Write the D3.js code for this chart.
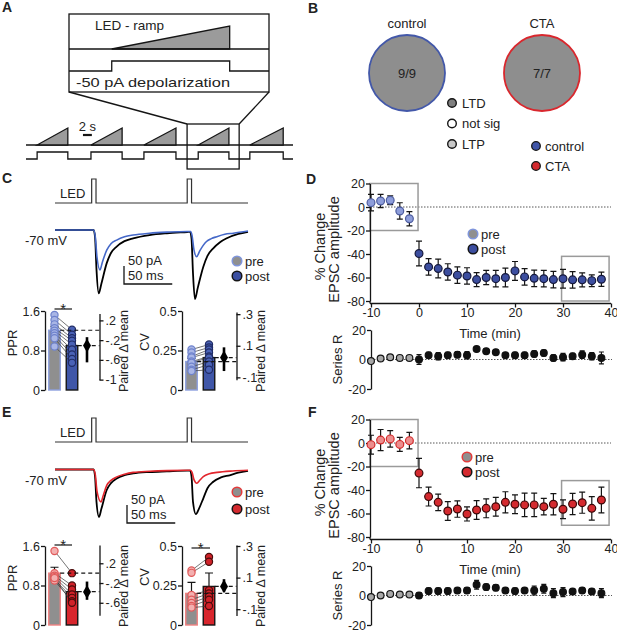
<!DOCTYPE html>
<html>
<head>
<meta charset="utf-8">
<script src="https://cdn.jsdelivr.net/npm/d3@7"></script>
<style>
  body { margin: 0; background: #fff; }
  svg text { font-family: Arial, "Liberation Sans", Helvetica, sans-serif; fill: #222; }
</style>
</head>
<body>
<svg id="fig" width="617" height="633"></svg>
<script>
// ---------- data ----------

// A: ramp / depolarization schedule (s)
const rampOn = [2.5, 14.6, 26.5, 38.7, 50.3];
const rampOff = [9.4, 21.6, 33.7, 45.6, 57.8];
const zoomWindow = [36.2, 47.9];
const zoomCycle = 3;

// B
const groups = ["control", "CTA"];
const ltdCounts = ["9/9", "7/7"];
const outcomeLabels = ["LTD", "not sig", "LTP"];
const outcomeFills = ["#7f7f7f", "#ffffff", "#c9c9c9"];

// C / E example traces: [ms, pA]; pre = black, post = coloured
const ledPulses = [[38, 42.5], [137, 141.5]];
const ctrlTracePre = [[0,0],[40,0],[41.5,-20],[43,-110],[45.3,-176],[48,-150],[53.6,-92],[58,-64],[63.9,-46],[72,-31],[81,-23],[98,-14],[116,-9],[137,-5.5],[140,-5],[141.5,-25],[143,-120],[145,-192],[148,-160],[153.7,-102],[158,-72],[164,-51],[171,-34],[178,-23],[190,-11],[200,-5]];
const ctrlTracePost = [[0,0],[40,0],[41.8,-20],[43.5,-75],[46.6,-111],[49,-90],[53.6,-56],[58,-38],[63.9,-28],[72,-19],[81,-14],[98,-9],[116,-6],[137,-4],[140.5,-4],[142,-15],[144,-55],[146.8,-74],[150,-58],[157,-32],[162,-24],[167.6,-18.6],[176,-12],[184.8,-9],[200,-3]];
const ctaTracePre = [[0,0],[40,0],[41.5,-20],[43,-90],[45.6,-132],[48,-110],[53.6,-57],[58,-38],[64,-25],[72,-16],[81,-11],[98,-7],[116,-5],[137,-3],[140,-3],[141.5,-20],[143,-90],[146,-124],[149,-110],[153.7,-80],[158,-52],[164,-34],[172,-22],[181,-16],[190,-9],[200,-4]];
const ctaTracePost = [[0,0],[40,0],[41.8,-15],[43.5,-60],[47.7,-90],[50,-72],[53.6,-44],[58,-30],[64,-20.5],[72,-13],[81,-8],[98,-5],[116,-3],[137,-2],[140.5,-2],[142,-8],[144,-28],[147,-38],[150,-30],[153.7,-20],[160,-12],[168,-8],[184,-4],[200,-2]];

// C / E paired plots
const ctrlPprPre  = [1.52, 1.42, 1.33, 1.25, 1.2, 1.15, 1.1, 1.05, 0.88];
const ctrlPprPost = [1.22, 1.12, 1.05, 1.0, 0.92, 0.82, 0.72, 0.63, 0.55];
const ctrlPprMean = [1.21, 0.90], ctrlPprSem = [0.08, 0.08], ctrlPprDelta = [-0.31, -0.65, -0.14];
const ctrlCvPre  = [0.256, 0.237, 0.212, 0.205, 0.18, 0.173, 0.147, 0.128, 0.12];
const ctrlCvPost = [0.288, 0.269, 0.256, 0.237, 0.212, 0.205, 0.18, 0.16, 0.128];
const ctrlCvMean = [0.18, 0.205], ctrlCvSem = [0.02, 0.025], ctrlCvDelta = [0.026, -0.06, 0.09];
const ctaPprPre  = [1.5, 1.05, 1.0, 0.97, 0.93, 0.9, 0.95];
const ctaPprPost = [1.05, 0.8, 0.72, 0.62, 0.55, 0.48, 0.45];
const ctaPprMean = [1.05, 0.675], ctaPprSem = [0.12, 0.08], ctaPprDelta = [-0.38, -0.54, -0.17];
const ctaCvPre  = [0.345, 0.33, 0.19, 0.16, 0.14, 0.12, 0.11];
const ctaCvPost = [0.43, 0.4, 0.22, 0.2, 0.18, 0.16, 0.12];
const ctaCvMean = [0.2, 0.244], ctaCvSem = [0.07, 0.085], ctaCvDelta = [0.044, 0.01, 0.09];

// D / F time courses (min)
const timePre = [-10, -8, -6, -4, -2];
const timePost = [0, 2, 4, 6, 8, 10, 12, 14, 16, 18, 20, 22, 24, 26, 28, 30, 32, 34, 36, 38];
const ctrlEpscPre = [3.7, 5.1, 5.7, -3.4, -10];
const ctrlEpscPreErr = [7, 5.7, 3.7, 7, 6];
const ctrlEpscPost = [-39.6, -51, -52.4, -55.3, -58, -58.7, -61.8, -60, -61, -60, -54.4, -59.5, -60.7, -61, -61.8, -61, -62, -62, -62.7, -61.5];
const ctrlEpscPostErr = [10.5, 7, 8, 7, 7, 7, 6, 6, 7, 8, 8, 7, 7, 7, 7, 8, 7, 6, 5, 6];
const ctrlRsPre = [-1.1, 0.7, 1.5, 1.1, 1.1];
const ctrlRsPost = [0, 2.9, 2.2, 2.9, 3.3, 2.9, 7.1, 5.6, 4.9, 2.9, 2.9, 2.9, 3.8, 4.4, 1.1, 1.6, 2.2, 3.3, 2.2, 1.1];
const ctrlRsPostErr = [3.3, 2, 2.5, 2, 2, 2.5, 1.5, 1.5, 1.5, 1.5, 2, 2, 2, 2, 2, 2.5, 2, 2.5, 2.5, 4];
const ctaEpscPre = [-1.4, 2.5, 3.5, -1.2, 2];
const ctaEpscPreErr = [8, 9, 7, 6, 7];
const ctaEpscPost = [-25.6, -45.6, -50.5, -57.9, -56.2, -60.4, -57, -55.6, -54.2, -50.5, -52.1, -52.7, -52.7, -54.2, -52.1, -56.4, -51.9, -50.8, -55.6, -48.5];
const ctaEpscPostErr = [12.5, 8, 7, 8, 7, 6, 8, 8, 8, 9, 8, 10, 10, 7, 9, 8, 9, 9, 10, 11];
const ctaRsPre = [-1.1, 0, 1.1, 0.7, 0.7];
const ctaRsPost = [0, 3, 3, 3, 3.4, 3.4, 7.3, 5.7, 5.3, 3.4, 3, 3.4, 3.4, 4.6, 1.6, 2.3, 2.7, 3.4, 2.7, 1.6];
const ctaRsPostErr = [2, 2, 2, 2, 2, 2, 3, 2, 2, 2, 2, 2, 3, 3, 3, 3, 2, 2, 2, 3];
const epscTicks = [20, 0, -20, -40, -60, -80];
const timeTicks = [-10, 0, 10, 20, 30, 40];
const rsTicks = [20, 0, -20];
const boxTimes = [[-10.2, -0.2], [29.7, 39.6]];
const ctrlBoxVals = [[20, -20], [-42, -80]];
const ctaBoxVals = [[20, -20], [-32, -70]];

// ---------- drawing ----------
const svg = d3.select("#fig");
const ink = "#151515";
const line = d3.line();

function txt(g, x, y, s, size, anchor, weight) {
  return g.append("text").attr("x", x).attr("y", y).text(s)
    .attr("font-size", size || 13)
    .attr("text-anchor", anchor || "start")
    .attr("font-weight", weight || null);
}
function vtxt(g, x, y, s, size) {
  return g.append("text").attr("transform", `translate(${x},${y}) rotate(-90)`)
    .attr("text-anchor", "middle").attr("dy", "0.35em")
    .attr("font-size", size || 13).text(s);
}
function styleAxis(a) {
  a.attr("font-size", 12.5);
  a.selectAll("path, line").attr("stroke", ink).attr("stroke-width", 1.3);
}

// panel letters
[["A", 2, 12], ["B", 308, 13], ["C", 2, 183], ["D", 306, 184], ["E", 2, 417], ["F", 308, 417]]
  .forEach(d => txt(svg, d[1], d[2], d[0], 14, "start", "bold"));

// ----- A -----
const gA = svg.append("g").attr("fill", "none").attr("stroke", ink).attr("stroke-width", 1.3);
const xA = d3.scaleLinear([0, 60], [26, 293]);
const rampY = d3.scaleLinear([0, 1], [145, 128]);
const stepY = d3.scaleLinear([0, 1], [159, 152]);
gA.append("line").attr("x1", xA(0)).attr("x2", xA(60)).attr("y1", rampY(0)).attr("y2", rampY(0));
rampOn.forEach((t, i) => {
  gA.append("path").attr("fill", "#9b9b9b")
    .attr("d", line([[xA(t), rampY(0)], [xA(rampOff[i]), rampY(1)], [xA(rampOff[i]), rampY(0)]]) + "Z");
});
const stepPts = [[xA(0), stepY(0)]];
rampOn.forEach((t, i) => stepPts.push([xA(t), stepY(0)], [xA(t), stepY(1)], [xA(rampOff[i]), stepY(1)], [xA(rampOff[i]), stepY(0)]));
stepPts.push([xA(60), stepY(0)]);
gA.append("path").attr("d", line(stepPts));
// zoom box and connectors
gA.append("rect").attr("x", xA(zoomWindow[0])).attr("y", 124)
  .attr("width", xA(zoomWindow[1]) - xA(zoomWindow[0])).attr("height", 45);
gA.append("line").attr("x1", 69).attr("y1", 92).attr("x2", xA(zoomWindow[0])).attr("y2", 124);
gA.append("line").attr("x1", 269).attr("y1", 92).attr("x2", xA(zoomWindow[1])).attr("y2", 124);
// inset
const xIn = d3.scaleLinear(zoomWindow, [69, 269]);
const inRampY = d3.scaleLinear([0, 1], [49, 26]);
const inStepY = d3.scaleLinear([0, 1], [71, 61]);
const on = rampOn[zoomCycle], off = rampOff[zoomCycle];
gA.append("rect").attr("x", 69).attr("y", 14).attr("width", 200).attr("height", 78);
gA.append("path").attr("fill", "#9b9b9b")
  .attr("d", line([[xIn(on), inRampY(0)], [xIn(off), inRampY(1)], [xIn(off), inRampY(0)]]) + "Z");
gA.append("line").attr("x1", 69).attr("x2", 269).attr("y1", inRampY(0)).attr("y2", inRampY(0));
gA.append("path").attr("d", line([[69, inStepY(0)], [xIn(on), inStepY(0)], [xIn(on), inStepY(1)],
  [xIn(off), inStepY(1)], [xIn(off), inStepY(0)], [269, inStepY(0)]]));
txt(svg, 95, 29.5, "LED - ramp", 13.5);
txt(svg, 76, 86.5, "-50 pA depolarization", 13.5)
  .attr("textLength", 154).attr("lengthAdjust", "spacingAndGlyphs");
// 2 s scale bar
gA.append("line").attr("x1", xA(12.8)).attr("x2", xA(14.8)).attr("y1", 135).attr("y2", 135).attr("stroke-width", 2.2);
txt(svg, xA(13.8), 131, "2 s", 13, "middle");

// ----- B -----
const gB = svg.append("g");
const bx = [407, 542], bCols = ["#4358a9", "#d9272d"];
groups.forEach((gname, i) => {
  txt(gB, bx[i], 27.5, gname, 13, "middle");
  gB.append("circle").attr("cx", bx[i]).attr("cy", 73).attr("r", 38)
    .attr("fill", "#8e8e8e").attr("stroke", bCols[i]).attr("stroke-width", 1.8);
  txt(gB, bx[i], 77.5, ltdCounts[i], 13, "middle");
});
outcomeLabels.forEach((l, i) => {
  const yy = 103 + i * 20.5;
  gB.append("circle").attr("cx", 452).attr("cy", yy).attr("r", 4.3)
    .attr("fill", outcomeFills[i]).attr("stroke", ink).attr("stroke-width", 1.4);
  txt(gB, 462, yy + 4.6, l, 13);
});
groups.forEach((l, i) => {
  const yy = 146 + i * 20;
  gB.append("circle").attr("cx", 536).attr("cy", yy).attr("r", 4.3)
    .attr("fill", i ? "#d42a2f" : "#3f55a8").attr("stroke", ink).attr("stroke-width", 1.3);
  txt(gB, 545, yy + 4.6, l, 13);
});

// ----- C / E traces -----
const xT = d3.scaleLinear([0, 200], [55, 248]);
function tracePanel(o) {
  const g = svg.append("g");
  const yLed = d3.scaleLinear([0, 1], [o.ledBase, o.ledBase - 24]);
  const ledPts = [[0, 0]];
  ledPulses.forEach(p => ledPts.push([p[0], 0], [p[0], 1], [p[1], 1], [p[1], 0]));
  ledPts.push([200, 0]);
  g.append("path").attr("fill", "none").attr("stroke", "#333").attr("stroke-width", 1.2)
    .attr("d", d3.line().x(d => xT(d[0])).y(d => yLed(d[1]))(ledPts));
  txt(g, 60, o.ledBase - 5.5, "LED", 13);

  const yI = d3.scaleLinear([0, -50], [o.base, o.base + 18]);
  const tl = d3.line().x(d => xT(d[0])).y(d => yI(d[1])).curve(d3.curveMonotoneX);
  g.append("path").attr("fill", "none").attr("stroke", "#000").attr("stroke-width", 1.8).attr("d", tl(o.pre));
  g.append("path").attr("fill", "none").attr("stroke", o.col).attr("stroke-width", 1.6).attr("d", tl(o.post));
  txt(g, 25, o.base + 15, "-70 mV", 13);

  // scale bar 50 pA / 50 ms
  const sx = o.barX, sy = o.barY;
  g.append("path").attr("fill", "none").attr("stroke", ink).attr("stroke-width", 1.3)
    .attr("d", line([[sx, sy - (yI(-50) - yI(0))], [sx, sy], [sx + xT(50) - xT(0), sy]]));
  txt(g, sx + 4, sy - 19.5, "50 pA", 13);
  txt(g, sx + 4, sy - 4, "50 ms", 13);

  // legend
  [["pre", "#8f8f8f", o.legPre], ["post", o.legPost, ink]].forEach((d, i) => {
    const yy = o.legY + i * o.legDy;
    g.append("circle").attr("cx", 237).attr("cy", yy).attr("r", 4.8)
      .attr("fill", d[1]).attr("stroke", d[2]).attr("stroke-width", 1.5);
    txt(g, 245, yy + 4.6, d[0], 13);
  });
}
tracePanel({ ledBase: 203, base: 230, pre: ctrlTracePre, post: ctrlTracePost, col: "#4568c8",
  barX: 124, barY: 284, legY: 261, legDy: 15, legPre: "#7f95dc", legPost: "#3b4fa2" });
tracePanel({ ledBase: 442, base: 469.5, pre: ctaTracePre, post: ctaTracePost, col: "#e2262d",
  barX: 127, barY: 523, legY: 492, legDy: 17, legPre: "#e43a3a", legPost: "#d42a2f" });

// ----- C / E paired estimation plots -----
function estPlot(o) {
  const g = svg.append("g");
  const ax = o.ax, ppu = 79 / o.max, bw = 11.5;
  const xPre = ax + 9.5, xPost = ax + 27, rx = ax + 54.5;
  const y = d3.scaleLinear([0, o.max], [o.y0, o.y0 - 79]);
  const rZero = y(o.means[0]);
  const yR = d3.scaleLinear(o.rDomain, [rZero - o.rDomain[0] * ppu, rZero - o.rDomain[1] * ppu]);
  const xs = [xPre, xPost];

  g.selectAll("rect.bar").data(o.means).join("rect")
    .attr("x", (d, i) => xs[i] - bw / 2).attr("y", d => y(d))
    .attr("width", bw).attr("height", d => y(0) - y(d))
    .attr("fill", (d, i) => i ? o.col.postBar : "#8f8f8f")
    .attr("stroke", (d, i) => i ? ink : o.col.preBar).attr("stroke-width", 1.4);
  o.means.forEach((m, i) => {
    const top = y(m + o.sems[i]);
    g.append("path").attr("fill", "none").attr("stroke", ink).attr("stroke-width", 1.2)
      .attr("d", line([[xs[i], y(m)], [xs[i], top]]) + "M" + (xs[i] - 4) + "," + top + "H" + (xs[i] + 4));
  });
  g.selectAll("line.pair").data(o.pre).join("line")
    .attr("x1", xPre).attr("x2", xPost).attr("y1", d => y(d)).attr("y2", (d, i) => y(o.post[i]))
    .attr("stroke", "#3a3a3a").attr("stroke-width", 0.7);
  g.selectAll("circle.pre").data(o.pre).join("circle")
    .attr("cx", xPre).attr("cy", d => y(d)).attr("r", 3.6)
    .attr("fill", o.col.prePt).attr("stroke", o.col.prePtStroke).attr("stroke-width", 1.2);
  g.selectAll("circle.post").data(o.post).join("circle")
    .attr("cx", xPost).attr("cy", d => y(d)).attr("r", 3.6)
    .attr("fill", o.col.postPt).attr("stroke", o.col.postPtStroke).attr("stroke-width", 1.2);

  // dashed mean guides
  g.append("line").attr("x1", xPre + bw / 2).attr("x2", rx).attr("y1", y(o.means[0])).attr("y2", y(o.means[0]))
    .attr("stroke", ink).attr("stroke-width", 1.2).attr("stroke-dasharray", "4,3");
  g.append("line").attr("x1", xPost + bw / 2).attr("x2", rx).attr("y1", y(o.means[1])).attr("y2", y(o.means[1]))
    .attr("stroke", ink).attr("stroke-width", 1.2).attr("stroke-dasharray", "4,3");
  // mean difference and CI
  g.append("line").attr("x1", ax + 42).attr("x2", ax + 42).attr("y1", yR(o.delta[1])).attr("y2", yR(o.delta[2]))
    .attr("stroke", "#000").attr("stroke-width", 2.6);
  g.append("path").attr("transform", `translate(${ax + 42},${yR(o.delta[0])})`)
    .attr("d", d3.symbol(d3.symbolDiamond, 55)()).attr("fill", "#000");

  const la = g.append("g").attr("transform", `translate(${ax},0)`)
    .call(d3.axisLeft(y).tickValues(o.ticks).tickFormat((d, i) => o.tickLabels[i]).tickSize(4).tickSizeOuter(0).tickPadding(1));
  styleAxis(la);
  const ra = g.append("g").attr("transform", `translate(${rx},0)`)
    .call(d3.axisRight(yR).tickValues(o.rTicks).tickFormat((d, i) => o.rLabels[i]).tickSize(4).tickSizeOuter(0).tickPadding(2));
  styleAxis(ra);
  vtxt(g, ax + o.labDx, o.y0 - o.labDy, o.label, 13);
  vtxt(g, ax + 79, o.y0 - 39, "Paired \u0394 mean", 12.5);
  if (o.sig) {
    g.append("line").attr("x1", xPre + o.sig[1]).attr("x2", xPost + o.sig[2]).attr("y1", o.sig[0]).attr("y2", o.sig[0])
      .attr("stroke", ink).attr("stroke-width", 1.2);
    txt(g, (xPre + xPost + o.sig[1] + o.sig[2]) / 2, o.sig[0] + 4.5, "*", 15, "middle");
  }
}
const ctrlCols = { preBar: "#8ea0de", postBar: "#3f56a8", prePt: "#a9b6e6", prePtStroke: "#6e82cc", postPt: "#4a62b6", postPtStroke: "#202c66" };
const ctaCols = { preBar: "#ef8080", postBar: "#d8262d", prePt: "#f3b0b0", prePtStroke: "#e05a5a", postPt: "#d02229", postPtStroke: "#4a0c0c" };
estPlot({ ax: 45, y0: 390, max: 1.6, ticks: [0, 0.8, 1.6], tickLabels: ["0", "0.8", "1.6"], label: "PPR", labDx: -33, labDy: 47,
  pre: ctrlPprPre, post: ctrlPprPost, means: ctrlPprMean, sems: ctrlPprSem, delta: ctrlPprDelta,
  rDomain: [0.34, -1], rTicks: [0.2, -0.2, -0.6, -1], rLabels: [".2", "-.2", "-.6", "-1"], col: ctrlCols, sig: [309, 0, 0] });
estPlot({ ax: 182, y0: 390, max: 0.5, ticks: [0, 0.25, 0.5], tickLabels: ["0", "0.25", "0.5"], label: "CV", labDx: -38, labDy: 48,
  pre: ctrlCvPre, post: ctrlCvPost, means: ctrlCvMean, sems: ctrlCvSem, delta: ctrlCvDelta,
  rDomain: [0.314, -0.115], rTicks: [0.3, 0.1, -0.1], rLabels: [".3", ".1", "-.1"], col: ctrlCols });
estPlot({ ax: 45, y0: 625, max: 1.6, ticks: [0, 0.8, 1.6], tickLabels: ["0", "0.8", "1.6"], label: "PPR", labDx: -33, labDy: 47,
  pre: ctaPprPre, post: ctaPprPost, means: ctaPprMean, sems: ctaPprSem, delta: ctaPprDelta,
  rDomain: [0.57, -0.85], rTicks: [0.2, -0.2, -0.6], rLabels: [".2", "-.2", "-.6"], col: ctaCols, sig: [545, 0, 0] });
estPlot({ ax: 182, y0: 625, max: 0.5, ticks: [0, 0.25, 0.5], tickLabels: ["0", "0.25", "0.5"], label: "CV", labDx: -38, labDy: 48,
  pre: ctaCvPre, post: ctaCvPost, means: ctaCvMean, sems: ctaCvSem, delta: ctaCvDelta,
  rDomain: [0.306, -0.14], rTicks: [0.3, 0.1, -0.1], rLabels: [".3", ".1", "-.1"], col: ctaCols, sig: [548, 0, 1] });

// ----- D / F time courses -----
function timeCourse(o) {
  const g = svg.append("g");
  const x = d3.scaleLinear([-10, 40], [371, 611]);
  const y = d3.scaleLinear([20, -80], [o.top, o.top + 117.5]);
  const axY = y(-80) + 2.5;

  // zero line
  g.append("line").attr("x1", 370).attr("x2", 611).attr("y1", y(0)).attr("y2", y(0))
    .attr("stroke", "#444").attr("stroke-width", 0.9).attr("stroke-dasharray", "1.5,1.5");
  // boxes
  boxTimes.forEach((b, i) => {
    const v = o.boxVals[i];
    g.append("rect").attr("x", x(b[0])).attr("y", y(v[0])).attr("width", x(b[1]) - x(b[0]))
      .attr("height", y(v[1]) - y(v[0])).attr("fill", "none").attr("stroke", "#9a9a9a").attr("stroke-width", 1.5);
  });
  // axes
  const ya = g.append("g").attr("transform", "translate(370,0)")
    .call(d3.axisLeft(y).tickValues(epscTicks).tickFormat(d => String(d)).tickSize(4).tickSizeOuter(0).tickPadding(1));
  styleAxis(ya);
  g.append("line").attr("x1", 370).attr("x2", 370).attr("y1", y(-80)).attr("y2", axY).attr("stroke", ink).attr("stroke-width", 1.3);
  const xa = g.append("g").attr("transform", `translate(0,${axY})`)
    .call(d3.axisBottom(x).tickValues(timeTicks).tickFormat(d => String(d)).tickSize(4).tickSizeOuter(0).tickPadding(1));
  styleAxis(xa);
  xa.select(".domain").attr("d", `M370,0H${x(40)}`);

  // points with error bars
  function pts(times, vals, errs, fill, stroke, yS, r, cap) {
    times.forEach((t, i) => {
      const e = errs ? errs[i] : 0;
      if (e) {
        g.append("path").attr("fill", "none").attr("stroke", ink).attr("stroke-width", 1.2)
          .attr("d", `M${x(t)},${yS(vals[i] + e)}V${yS(vals[i] - e)}M${x(t) - cap},${yS(vals[i] + e)}h${2 * cap}M${x(t) - cap},${yS(vals[i] - e)}h${2 * cap}`);
      }
      g.append("circle").attr("cx", x(t)).attr("cy", yS(vals[i])).attr("r", r)
        .attr("fill", fill).attr("stroke", stroke).attr("stroke-width", 1.2);
    });
  }
  pts(timePre, o.pre, o.preErr, o.col.preFill, o.col.preStroke, y, 3.9, 3);
  pts(timePost, o.post, o.postErr, o.col.postFill, o.col.postStroke, y, 3.9, 3);

  // legend
  [["pre", "#8f8f8f", o.col.legPre], ["post", o.col.postFill, ink]].forEach((d, i) => {
    const yy = o.legY + i * 15;
    g.append("circle").attr("cx", o.legX).attr("cy", yy).attr("r", 4.8)
      .attr("fill", d[1]).attr("stroke", d[2]).attr("stroke-width", 1.5);
    txt(g, o.legX + 8, yy + 4.6, d[0], 13);
  });
  vtxt(g, 320, o.top + 63, "% Change", 14.5);
  vtxt(g, 334, o.top + 66, "EPSC amplitude", 14.5);
  txt(g, 490, axY + 34, "Time (min)", 13, "middle");

  // series resistance
  const yr = d3.scaleLinear([20, -20], [o.rTop, o.rTop + 59]);
  g.append("line").attr("x1", 371).attr("x2", 612).attr("y1", yr(0)).attr("y2", yr(0))
    .attr("stroke", "#444").attr("stroke-width", 0.9).attr("stroke-dasharray", "1.5,1.5");
  const ra = g.append("g").attr("transform", "translate(371,0)")
    .call(d3.axisLeft(yr).tickValues(rsTicks).tickFormat(d => String(d)).tickSize(4).tickSizeOuter(0).tickPadding(1));
  styleAxis(ra);
  pts(timePre, o.rsPre, null, "#a8a8a8", ink, yr, 3.4, 2.5);
  pts(timePost, o.rsPost, o.rsPostErr, "#111", "#111", yr, 3.4, 2.5);
  vtxt(g, 337, yr(0), "Series R", 13);
}
timeCourse({ top: 183.5, rTop: 330, pre: ctrlEpscPre, preErr: ctrlEpscPreErr, post: ctrlEpscPost, postErr: ctrlEpscPostErr,
  rsPre: ctrlRsPre, rsPost: ctrlRsPost, rsPostErr: ctrlRsPostErr, boxVals: ctrlBoxVals, legX: 473, legY: 234,
  col: { preFill: "#8d9dda", preStroke: "#4d5c9e", postFill: "#3c4e9f", postStroke: "#15183a", legPre: "#7f95dc" } });
timeCourse({ top: 419.5, rTop: 566, pre: ctaEpscPre, preErr: ctaEpscPreErr, post: ctaEpscPost, postErr: ctaEpscPostErr,
  rsPre: ctaRsPre, rsPost: ctaRsPost, rsPostErr: ctaRsPostErr, boxVals: ctaBoxVals, legX: 467, legY: 457,
  col: { preFill: "#ec8e8e", preStroke: "#d42a2a", postFill: "#d42a2f", postStroke: "#3a0808", legPre: "#e43a3a" } });
</script>
</body>
</html>
